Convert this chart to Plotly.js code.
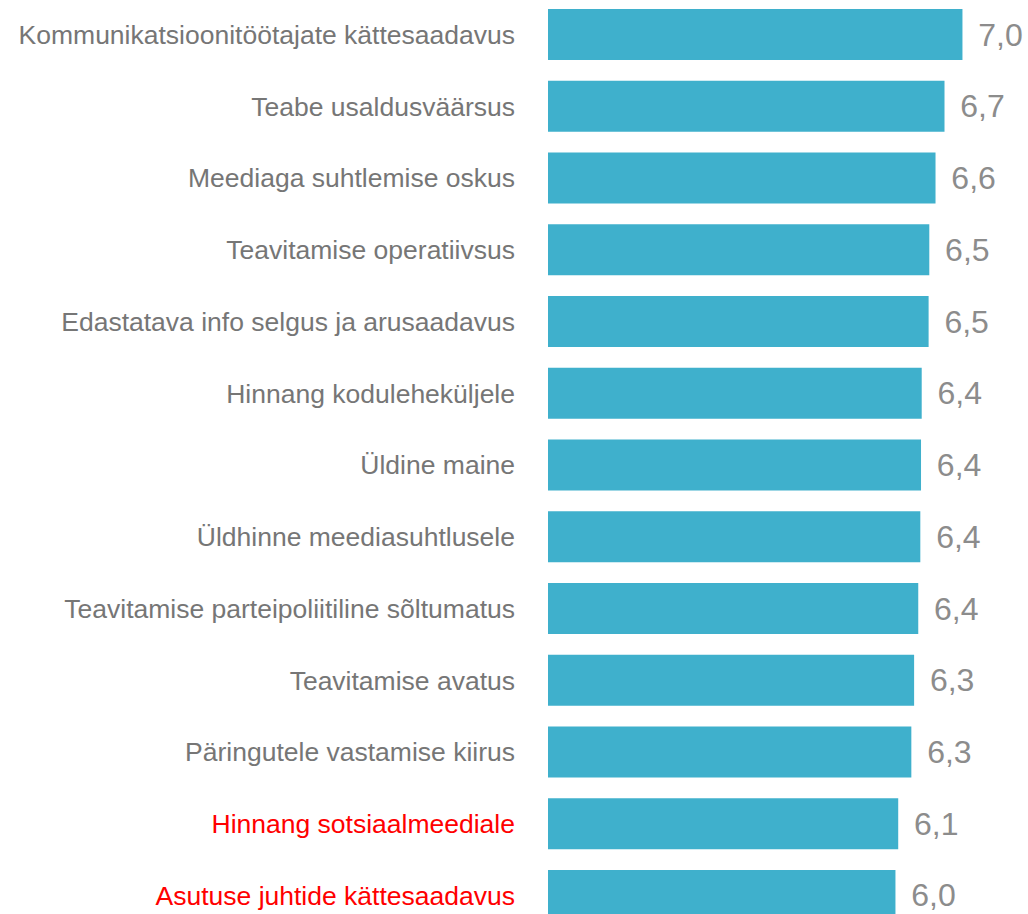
<!DOCTYPE html>
<html>
<head>
<meta charset="utf-8">
<script src="https://cdn.plot.ly/plotly-3.0.1.min.js"></script>
<style>html,body{margin:0;padding:0;background:#fff;}</style>
</head>
<body>
<div id="chart" style="width:1028px;height:914px;"></div>
<script>
const categories = [
  "Kommunikatsioonitöötajate kättesaadavus",
  "Teabe usaldusväärsus",
  "Meediaga suhtlemise oskus",
  "Teavitamise operatiivsus",
  "Edastatava info selgus ja arusaadavus",
  "Hinnang koduleheküljele",
  "Üldine maine",
  "Üldhinne meediasuhtlusele",
  "Teavitamise parteipoliitiline sõltumatus",
  "Teavitamise avatus",
  "Päringutele vastamise kiirus",
  "Hinnang sotsiaalmeediale",
  "Asutuse juhtide kättesaadavus"
];
const values = [7.00, 6.74, 6.61, 6.52, 6.51, 6.41, 6.40, 6.39, 6.36, 6.30, 6.26, 6.07, 6.03];
const highlighted = ["Hinnang sotsiaalmeediale", "Asutuse juhtide kättesaadavus"];

const tickText = categories.map(c =>
  highlighted.includes(c) ? '<span style="color:#FF0000">' + c + '</span>' : c);

const trace = {
  type: 'bar',
  orientation: 'h',
  y: categories,
  x: values,
  width: 0.71,
  marker: {color: '#3FB0CC'},
  texttemplate: '\u2009\u2009%{x:.1f}',
  textposition: 'outside',
  cliponaxis: false,
  textfont: {family: 'Liberation Sans, Arial, sans-serif', size: 32, color: '#8C8C8C'},
  hoverinfo: 'none'
};

const layout = {
  width: 1028,
  height: 914,
  margin: {l: 548, r: 31, t: 0, b: 0, pad: 0},
  paper_bgcolor: '#ffffff',
  plot_bgcolor: '#ffffff',
  separators: ', ',
  showlegend: false,
  xaxis: {
    range: [1, 7.5],
    visible: false,
    fixedrange: true
  },
  yaxis: {
    type: 'category',
    range: [12.258, -0.481],
    tickvals: categories,
    ticktext: tickText,
    showgrid: false,
    showline: false,
    zeroline: false,
    ticks: '',
    ticklabelstandoff: 32,
    tickfont: {family: 'Liberation Sans, Arial, sans-serif', size: 26.5, color: '#767676'},
    fixedrange: true
  }
};

Plotly.newPlot('chart', [trace], layout, {displayModeBar: false, staticPlot: true});
</script>
</body>
</html>
